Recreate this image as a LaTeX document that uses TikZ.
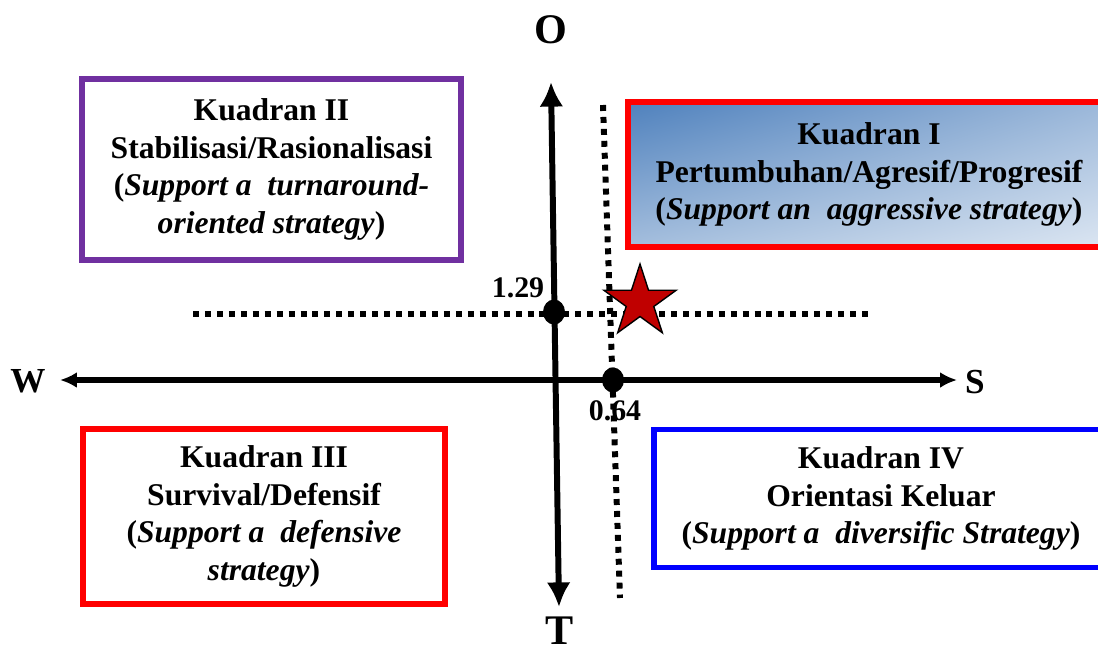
\documentclass[tikz,border=0pt]{standalone}
\usepackage{fontspec}
\setmainfont{Liberation Serif}
\usetikzlibrary{arrows.meta,shapes.geometric,shadings}
\definecolor{kpurple}{HTML}{7030A0}
\definecolor{kred}{HTML}{C00000}
\definecolor{kblueA}{HTML}{4F81BD}
\definecolor{kblueB}{HTML}{DCE6F2}
\begin{document}
\begin{tikzpicture}[x=0.02cm, y=-0.02cm, >={Latex[length=9.6pt,width=9pt]},
  quad/.style={line width=3pt, align=center, inner sep=0pt, font=\fontsize{18}{21.3}\selectfont\bfseries},
  axlabel/.style={inner sep=0pt, font=\fontsize{20}{24}\selectfont\bfseries},
  val/.style={font=\fontsize{17}{20}\selectfont\bfseries},
  dots/.style={line width=3.4pt, dash pattern=on 3.4pt off 3.4pt},
  pt/.style={ellipse, fill, inner sep=0pt, minimum width=0.44cm, minimum height=0.5cm}]
\useasboundingbox (0,0) rectangle (1098,653);
% quadrant boxes
\node[quad, draw=kpurple, line width=3.4pt, minimum width=7.6cm, minimum height=3.63cm] (k2) at (271.5,169.5)
  {Kuadran II\\Stabilisasi/Rasionalisasi\\(\textit{Support a\ \ turnaround-}\\\textit{oriented strategy})};
\node[quad, draw=red, upper left=kblueA, upper right=kblueA!45!kblueB, lower left=kblueA!40!kblueB, lower right=kblueB,
  minimum width=9.64cm, minimum height=2.9cm] (k1) at (869,174.5)
  {Kuadran I\\Pertumbuhan/Agresif/Progresif\\(\textit{Support an\ \ aggressive strategy})};
\node[quad, draw=red, minimum width=7.24cm, minimum height=3.5cm] (k3) at (264,516.5)
  {Kuadran III\\Survival/Defensif\\(\textit{Support a\ \ defensive}\\\textit{strategy})};
\node[quad, draw=blue, minimum width=9.08cm, minimum height=2.76cm] (k4) at (881,498.5)
  {Kuadran IV\\Orientasi Keluar\\(\textit{Support a\ \ diversific Strategy})};
% axes
\coordinate (wend) at (60,380); \coordinate (send) at (957,380);
\coordinate (otop) at (551,82); \coordinate (tbot) at (559,607);
\draw[<->, line width=3.4pt] (wend) -- (send);
\draw[<->, line width=3.4pt, >={Latex[length=14pt,width=13.6pt]}] (otop) -- (tbot);
\node[axlabel] (w) at (28,381) {W};
\node[axlabel] (s) at (975,382) {S};
\node[axlabel, font=\fontsize{24}{28}\selectfont\bfseries] (o) at (551,30) {O};
\node[axlabel, font=\fontsize{24}{28}\selectfont\bfseries] (t) at (560,631) {T};
% position lines
\coordinate (h1) at (193,314); \coordinate (h2) at (870,314);
\coordinate (v1) at (603,105); \coordinate (v2) at (620,598);
\draw[dots] (h1) -- (h2);
\draw[dots] (v1) -- (v2);
\node[pt] (p129) at (554,312) {};
\node[pt] (p064) at (613,380) {};
\node[val] (l129) at (518,288) {1.29};
\node[val] (l064) at (615,411) {0.64};
\node[star, star points=5, star point ratio=2.618, draw, line width=0.8pt, fill=kred,
  minimum size=1.52cm, inner sep=0pt] (pos) at (640,302) {};
\end{tikzpicture}
\end{document}
